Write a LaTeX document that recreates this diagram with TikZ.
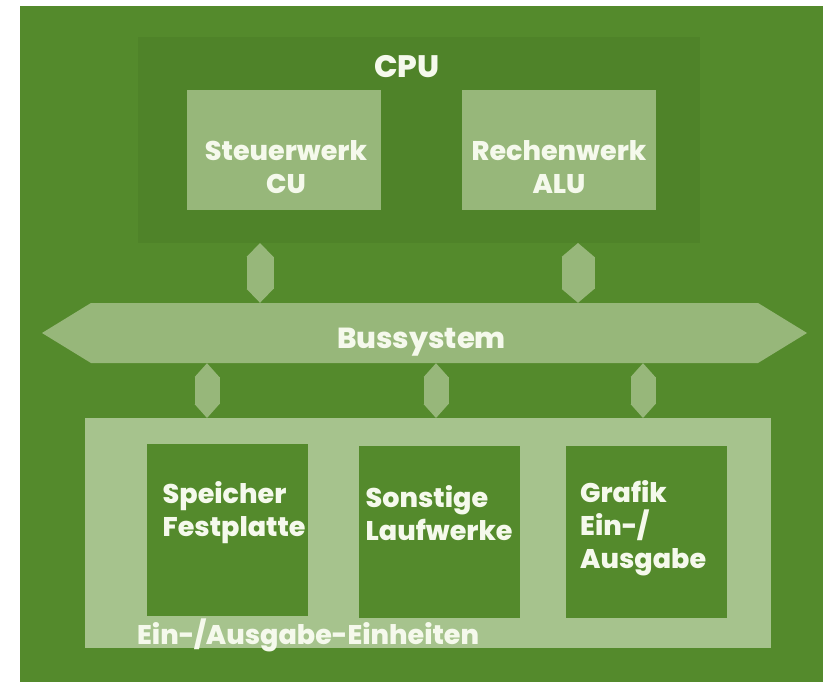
\documentclass[tikz,border=0pt]{standalone}
\usepackage{fontspec}
\newfontfamily\diagfont{Poppins}[BoldFont={Poppins ExtraBold}]
\usetikzlibrary{arrows.meta,positioning,shapes.arrows}
\definecolor{bggreen}{RGB}{84,138,44}
\definecolor{cpugreen}{RGB}{79,131,41}
\definecolor{unitgreen}{RGB}{151,183,122}
\definecolor{iogreen}{RGB}{166,195,141}
\definecolor{labelwhite}{RGB}{245,249,236}

\begin{document}
\begin{tikzpicture}[
  x=1pt, y=1pt,
  panel/.style={rectangle, fill=#1, inner sep=0pt, outer sep=0pt},
  cpubox/.style={panel=cpugreen, minimum width=562pt, minimum height=206pt},
  unitbox/.style={panel=unitgreen, minimum width=194pt, minimum height=120pt},
  devbox/.style={panel=bggreen, minimum width=161pt, minimum height=172pt},
  iobox/.style={panel=iogreen, minimum width=686pt, minimum height=230pt},
  busbar/.style={
    double arrow, double arrow head extend=0pt, double arrow tip angle=63,
    fill=unitgreen, minimum height=765pt, minimum width=60pt, inner sep=0pt
  },
  txt/.style={font={\diagfont\bfseries\fontsize{27}{33}\selectfont}, text=labelwhite, inner sep=0pt},
  link/.style={
    draw=unitgreen, line width=#1,
    {Triangle[length=14pt,width=#1,line width=0pt]}-{Triangle[length=14pt,width=#1,line width=0pt]}
  },
]
\useasboundingbox (0,0) rectangle (823,-682);
\fill[bggreen] (20,-6) rectangle (823,-682);

% ── CPU ──
\node[cpubox] (cpu) at (419,-140) {};
\node[txt, font={\diagfont\bfseries\fontsize{31}{36}\selectfont}, below=18pt of cpu.north, xshift=-12pt] (cputitle) {CPU};

\node[unitbox] (cu) at (284,-150) {};
\node[txt, align=center, below=50pt of cu.north, xshift=2pt] (cutext) {Steuerwerk\\CU};

\node[unitbox] (alu) at (559,-150) {};
\node[txt, align=center, below=50pt of alu.north] (alutext) {Rechenwerk\\ALU};

% ── Bus ──
\node[busbar] (bus) at (424.5,-333) {};
\node[txt, font={\diagfont\bfseries\fontsize{29}{34}\selectfont}, below=25pt of bus.north, xshift=-3pt] (bustext) {Bussystem};

% ── Ein-/Ausgabe ──
\node[iobox] (io) at (428,-533) {};

\node[devbox] (disk) at (227,-530) {};
\node[txt, align=left, below right=37pt and 16pt of disk.north west] (disktext) {Speicher\\Festplatte};

\node[devbox] (drives) at (439,-532) {};
\node[txt, align=left, below right=39pt and 7pt of drives.north west] (drivestext) {Sonstige\\Laufwerke};

\node[devbox] (gfx) at (646.5,-532) {};
\node[txt, align=left, below right=34pt and 14pt of gfx.north west] (gfxtext) {Grafik\\Ein-/\\Ausgabe};

\node[txt, anchor=base west] (iotext) at ([xshift=52pt,yshift=4pt]io.south west) {Ein-/Ausgabe-Einheiten};

% ── Links ──
\draw[link=27pt] ([xshift=-159pt]cpu.south) -- ([xshift=-159pt]cpu.south |- bus.north);
\draw[link=33pt] ([xshift=159pt]cpu.south) -- ([xshift=159pt]cpu.south |- bus.north);
\draw[link=25pt] ([xshift=-221pt]io.north |- bus.south) -- ([xshift=-221pt]io.north);
\draw[link=25pt] ([xshift=8pt]io.north |- bus.south) -- ([xshift=8pt]io.north);
\draw[link=25pt] ([xshift=215pt]io.north |- bus.south) -- ([xshift=215pt]io.north);
\end{tikzpicture}
\end{document}
